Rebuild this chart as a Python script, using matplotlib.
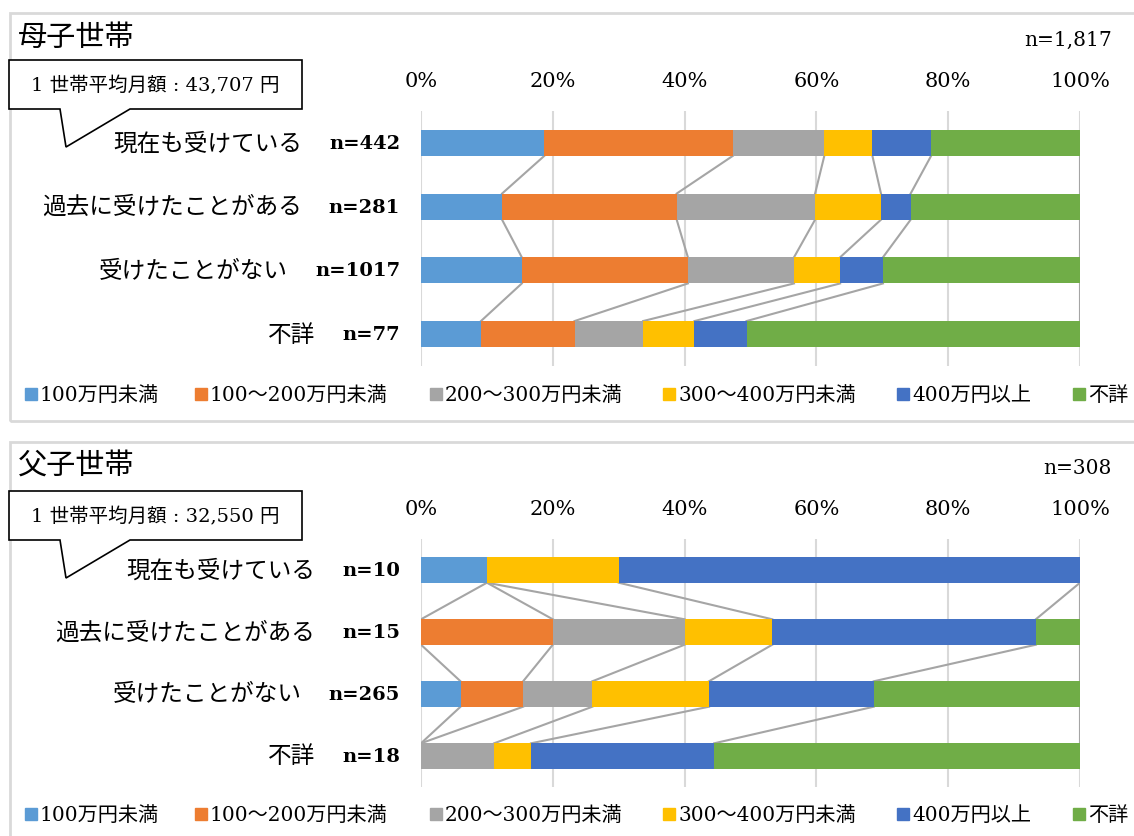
import matplotlib.pyplot as plt
from matplotlib.patches import Rectangle, Polygon

plt.rcParams['font.family'] = ['DejaVu Serif', 'Noto Sans CJK JP']

# data (percent of each row)
series = ['100万円未満', '100～200万円未満', '200～300万円未満',
          '300～400万円未満', '400万円以上', '不詳']
colors = ['#5B9BD5', '#ED7D31', '#A5A5A5', '#FFC000', '#4472C4', '#70AD47']
rows = ['現在も受けている', '過去に受けたことがある', '受けたことがない', '不詳']

mother_n = ['n=442', 'n=281', 'n=1017', 'n=77']
mother = [
    [18.7, 28.6, 13.9, 7.3, 8.9, 22.6],
    [12.3, 26.5, 21.0, 10.0, 4.5, 25.7],
    [15.3, 25.2, 16.1, 7.0, 6.5, 29.9],
    [9.1, 14.2, 10.4, 7.8, 7.9, 50.6],
]
father_n = ['n=10', 'n=15', 'n=265', 'n=18']
father = [
    [10.0, 0.0, 0.0, 20.0, 70.0, 0.0],
    [0.0, 20.0, 20.0, 13.3, 40.0, 6.7],
    [6.0, 9.5, 10.5, 17.7, 25.0, 31.3],
    [0.0, 0.0, 11.1, 5.6, 27.8, 55.5],
]

W, H = 1134, 837
fig = plt.figure(figsize=(W / 100, H / 100), dpi=100)


def fx(x):
    return x / W


def fy(y):
    return 1 - y / H


def panel(title, total, note, data, nlabels, top, box_y, ax_top, ax_bot, leg_y, bottom):
    # panel frame
    fig.patches.append(Rectangle((fx(10), fy(bottom)), fx(1200) - fx(10), fy(top) - fy(bottom),
                                 transform=fig.transFigure, fill=False,
                                 edgecolor='#d9d9d9', lw=2))
    fig.text(fx(18), fy(top + 24), title, fontsize=21, va='center', ha='left')
    fig.text(fx(1112), fy(top + 26), total, fontsize=14.5, va='center', ha='right')

    # callout box
    b0, b1 = box_y, box_y + 49
    pts = [(9, b0), (302, b0), (302, b1), (130, b1), (66, b1 + 38), (60, b1), (9, b1)]
    fig.patches.append(Polygon([(fx(a), fy(b)) for a, b in pts], closed=True,
                               transform=fig.transFigure, facecolor='white',
                               edgecolor='black', lw=1.2, zorder=5))
    fig.text(fx(155), fy(box_y + 25), note, fontsize=14, ha='center', va='center', zorder=6)

    ax = fig.add_axes([fx(421), fy(ax_bot), fx(1080) - fx(421), fy(ax_top) - fy(ax_bot)])
    nr = len(data)
    h = 0.41
    for i, vals in enumerate(data):
        left = 0
        for j, v in enumerate(vals):
            if v > 0:
                ax.barh(i, v, left=left, height=h, color=colors[j], zorder=3)
            left += v
    # series lines
    for i in range(nr - 1):
        c1 = 0
        c2 = 0
        for j in range(len(series)):
            c1 += data[i][j]
            c2 += data[i + 1][j]
            ax.plot([c1, c2], [i + h / 2, i + 1 - h / 2], color='#a5a5a5', lw=1.5, zorder=2)
    ax.set_xlim(0, 100)
    ax.set_ylim(nr - 0.5, -0.5)
    ax.set_xticks(range(0, 101, 20))
    ax.set_xticklabels(['%d%%' % t for t in range(0, 101, 20)], fontsize=15)
    ax.xaxis.tick_top()
    ax.tick_params(axis='x', length=0, pad=15)
    ax.set_yticks([])
    ax.grid(axis='x', color='#d9d9d9', lw=1.5, zorder=0)
    for s in ax.spines.values():
        s.set_visible(False)

    # row labels
    fig.canvas.draw()
    r = fig.canvas.get_renderer()
    for i, name in enumerate(rows):
        yc = ax.transData.transform((0, i))[1] / H
        t = fig.text(fx(400), yc, nlabels[i], fontsize=14, fontweight='bold',
                     ha='right', va='center')
        x0 = t.get_window_extent(r).x0
        fig.text((x0 - 27) / W, yc, name, fontsize=17, ha='right', va='center')

    # legend
    lx = [25, 195, 430, 663, 897, 1073]
    for j, s in enumerate(series):
        fig.patches.append(Rectangle((fx(lx[j]), fy(leg_y + 6)), 12 / W, 12 / H,
                                     transform=fig.transFigure, color=colors[j]))
        fig.text(fx(lx[j] + 15), fy(leg_y + 1), s, fontsize=14.5, ha='left', va='center')


panel('母子世帯', 'n=1,817', '1 世帯平均月額 : 43,707 円', mother, mother_n,
      14, 61, 112, 367, 395, 422)
panel('父子世帯', 'n=308', '1 世帯平均月額 : 32,550 円', father, father_n,
      443, 492, 540, 788, 815, 900)

plt.savefig('out.png', dpi=100)
